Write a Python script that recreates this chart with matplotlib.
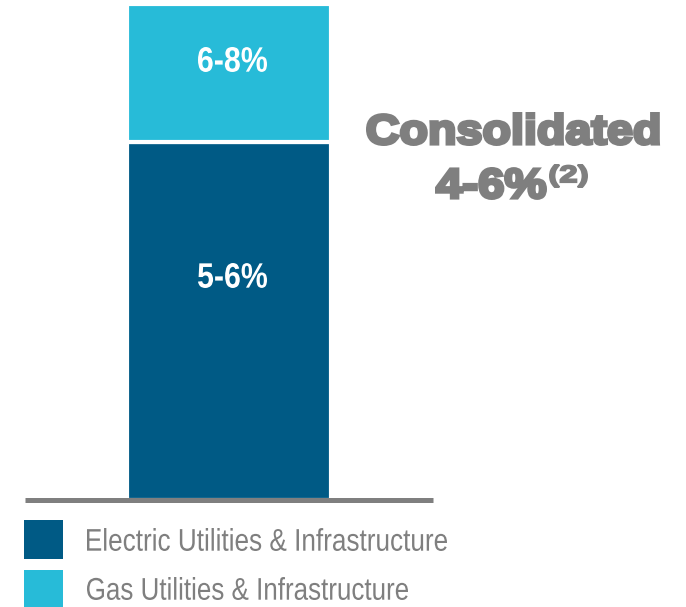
import matplotlib
matplotlib.use("Agg")
import matplotlib.pyplot as plt
from matplotlib.textpath import TextPath
from matplotlib.font_manager import FontProperties
from matplotlib.patches import PathPatch, Rectangle
from matplotlib.transforms import Affine2D, IdentityTransform

# segments of the single stacked bar (bottom to top)
segments = ["Electric Utilities & Infrastructure", "Gas Utilities & Infrastructure"]
shares = [72.2, 27.8]
labels = ["5-6%", "6-8%"]
colors = ["#005A85", "#27BBD8"]
consolidated = "4-6%"
note = "(2)"

W, H = 686, 607
grey = "#7F7F7F"

fig = plt.figure(figsize=(W / 100, H / 100), dpi=100)
ax = fig.add_axes([25 / W, 1 - 500 / H, 408 / W, 496 / H])


def put_text(s, x0, x1, top, bottom, color, weight="normal", stroke=0.0):
    # draw text as a path squeezed into an ink box given in image pixels
    fp = FontProperties(family="Liberation Sans", weight=weight)
    tp = TextPath((0, 0), s, size=100, prop=fp)
    ext = tp.get_extents()
    pad = stroke * 100 / 72 / 2
    sx = (x1 - x0 - 2 * pad) / ext.width
    sy = (bottom - top - 2 * pad) / ext.height
    tr = (Affine2D().translate(-ext.x0, -ext.y0).scale(sx, sy)
          .translate(x0 + pad, H - bottom + pad))
    fig.add_artist(PathPatch(tp, transform=tr + IdentityTransform(), fc=color,
                             ec=color if stroke else "none", lw=stroke))


bottom = 0
for share, col in zip(shares, colors):
    ax.bar(0, share, width=1.02, bottom=bottom, color=col,
           edgecolor="white", linewidth=3, zorder=1)
    bottom += share

ax.set_xlim(-1.02, 1.02)
ax.set_ylim(0, 100)
ax.axhline(0, color=grey, linewidth=3.6, zorder=3, solid_capstyle="butt", clip_on=False)
for s in ax.spines.values():
    s.set_visible(False)
ax.set_xticks([])
ax.set_yticks([])
ax.patch.set_alpha(0)

# segment labels
put_text(labels[0], 198, 267, 263, 288, "white", weight="bold")
put_text(labels[1], 198, 267, 47, 72, "white", weight="bold")

# consolidated annotation
put_text("Consolidated", 366, 660, 112, 146, grey, weight="bold", stroke=2.4)
put_text(consolidated, 435, 547, 167, 200, grey, weight="bold", stroke=2.4)
put_text(note, 549, 588, 164, 188, grey, weight="bold", stroke=1.4)

# legend
legend_rows = [(520, 559, 528, 551, 447), (570, 607, 577, 600, 408)]
for (sq_top, sq_bot, t_top, t_bot, t_right), col, name in zip(legend_rows, colors, segments):
    fig.add_artist(Rectangle((24, H - sq_bot), 39, sq_bot - sq_top, fc=col, ec="none",
                             transform=IdentityTransform()))
    put_text(name, 87, t_right, t_top, t_bot, grey)

fig.savefig("out.png", dpi=100)
